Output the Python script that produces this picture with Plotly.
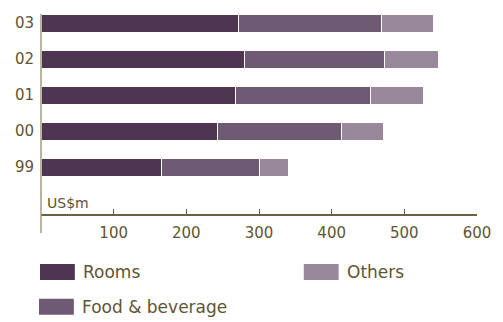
import plotly.graph_objects as go

years = ["99", "00", "01", "02", "03"]
rooms = [166, 243, 267, 280, 272]
food_bev = [135, 170, 186, 193, 196]
others = [40, 59, 74, 74, 72]
x_ticks = [100, 200, 300, 400, 500, 600]

C_ROOMS = "#4e3552"
C_FB = "#6f5a74"
C_OTH = "#99879c"
TXT = "#5e5535"
FONT = "DejaVu Sans"

ypos = list(range(len(years)))

fig = go.Figure()
for name, vals, col in [("Rooms", rooms, C_ROOMS), ("Food & beverage", food_bev, C_FB), ("Others", others, C_OTH)]:
    fig.add_trace(go.Bar(y=ypos, x=vals, orientation="h", name=name, width=0.5,
                         marker=dict(color=col, line=dict(color="#ffffff", width=1)),
                         showlegend=False))

fig.update_layout(
    barmode="stack",
    width=503, height=322,
    margin=dict(l=41, r=24, t=14, b=108),
    paper_bgcolor="white", plot_bgcolor="white",
    font=dict(family=FONT, color=TXT, size=15),
    xaxis=dict(range=[0, 600], tickvals=x_ticks, ticks="inside", ticklen=5, tickwidth=1,
               tickcolor="#6b6040", showgrid=False, zeroline=False, showline=True,
               linecolor="#6b6040", linewidth=2, tickfont=dict(size=15, color=TXT),
               ticklabelstandoff=4),
    yaxis=dict(range=[-1.3, 4.25], tickvals=ypos, ticktext=years, showgrid=False,
               zeroline=False, showline=False, ticks="", tickfont=dict(size=15, color=TXT),
               ticklabelstandoff=6),
)

# left vertical axis line extending below x axis
fig.add_shape(type="line", xref="paper", yref="paper", x0=0, x1=0, y0=-0.095, y1=1,
              line=dict(color="#a39d85", width=1.5))

fig.add_annotation(x=0, y=-1, xref="x", yref="y", text="US$m", showarrow=False,
                   xanchor="left", xshift=4, font=dict(size=14, color=TXT))

# legend
legend_items = [("Rooms", C_ROOMS, 40, 272), ("Others", C_OTH, 305, 272), ("Food & beverage", C_FB, 39, 307)]
for label, col, px, py in legend_items:
    x0 = (px - 41) / 438
    x1 = (px + 35 - 41) / 438
    y0 = (214 - (py - 8)) / 200.3
    y1 = (214 - (py + 8)) / 200.3
    fig.add_shape(type="rect", xref="paper", yref="paper", x0=x0, x1=x1, y0=y1, y1=y0,
                  fillcolor=col, line=dict(width=0))
    fig.add_annotation(x=(px + 41 - 41) / 438, y=(214 - py) / 200.3, xref="paper", yref="paper",
                       text=label, showarrow=False, xanchor="left", yanchor="middle",
                       font=dict(size=17, color=TXT))

fig.write_html("out.html")
